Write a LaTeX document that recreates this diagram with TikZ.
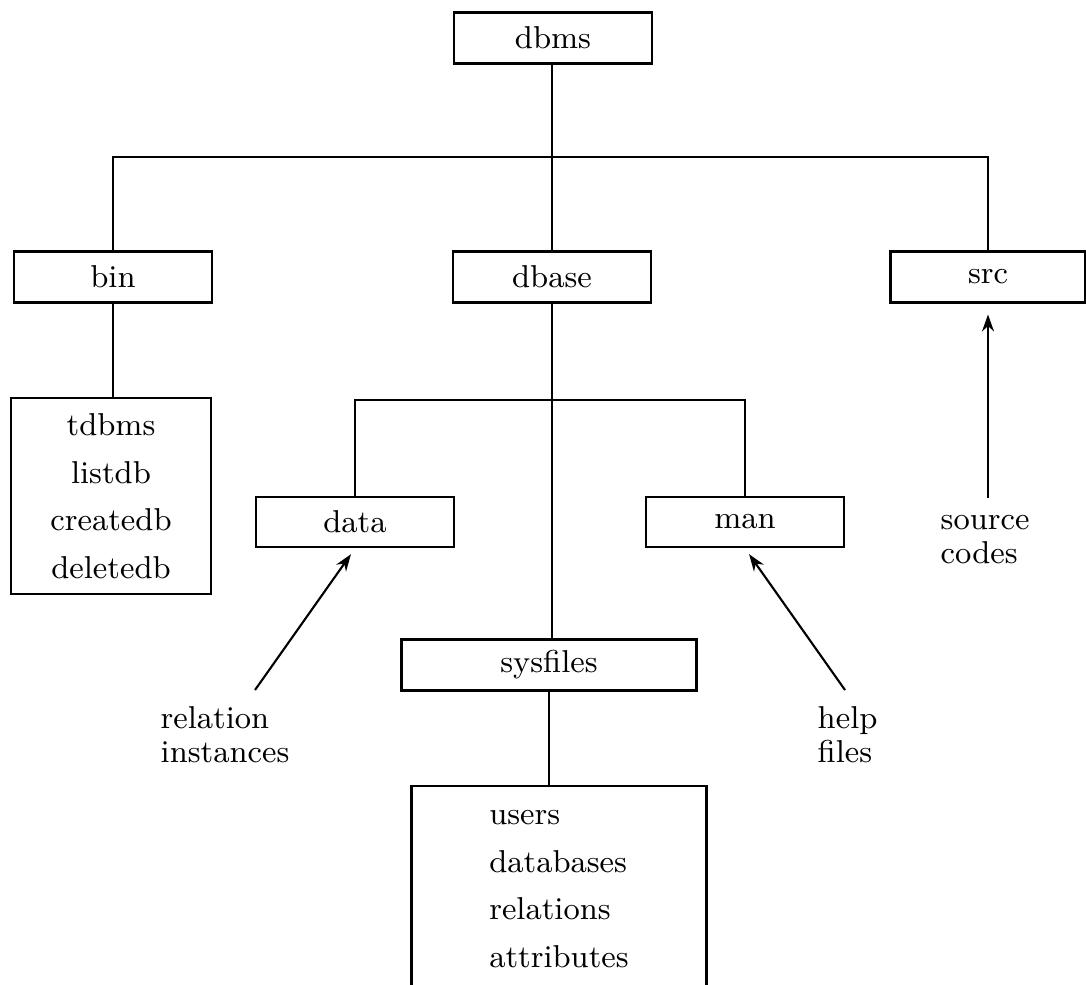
\documentclass[tikz,border=0pt]{standalone}
\usepackage{tikz}
\usetikzlibrary{arrows.meta}

\begin{document}
\begin{tikzpicture}[x=0.01cm,y=-0.01cm,
    every node/.style={inner sep=0pt,minimum size=0pt,font=\fontsize{9}{11}\selectfont},
    dirbox/.style={draw=black,line width=0.8pt,minimum width=1.98cm,minimum height=0.51cm},
    listbox/.style={draw=black,line width=0.8pt,align=center},
    note/.style={draw=none,align=left,font=\fontsize{9}{9.5}\selectfont},
    pointer/.style={draw=black,line width=0.6pt,-{Stealth[length=1.7mm,width=1.2mm]}}]
    \useasboundingbox (0,0) rectangle (1086,984);

    % directory boxes
    \node(dbms)[dirbox] at (553,38) {dbms};
    \node(bin)[dirbox] at (113,277) {bin};
    \node(dbase)[dirbox] at (552,277) {dbase};
    \node(src)[dirbox,minimum width=1.95cm] at (988,277) {src};
    \node(data)[dirbox,minimum height=0.5cm] at (355,522) {data};
    \node(man)[dirbox,minimum height=0.5cm] at (745,522) {man};
    \node(sysfiles)[dirbox,minimum width=2.95cm] at (549,665) {sysfiles};

    % file lists
    \node(progs)[listbox,minimum width=2cm,minimum height=1.96cm] at (111,496)
        {tdbms\\[2.5pt] listdb\\[2.5pt] createdb\\[2.5pt] deletedb};
    \node(tables)[listbox,align=left,minimum width=2.95cm,minimum height=2.06cm] at (559,889)
        {users\\[2.5pt] databases\\[2.5pt] relations\\[2.5pt] attributes};

    % notes
    \node(srcnote)[note,anchor=north west] at (940,515) {source\\codes};
    \node(datanote)[note,anchor=north west] at (160,706) {relation\\instances};
    \node(mannote)[note,anchor=north west] at (817,706) {help\\files};

    % branch points
    \coordinate(barl) at (113,157);
    \coordinate(barr) at (988,157);
    \coordinate(subl) at (355,400);
    \coordinate(subr) at (745,400);
    \coordinate(srcfoot) at (988,498);
    \coordinate(datafoot) at (255,690);
    \coordinate(manfoot) at (845,690);

    \path[draw=black,line width=0.6pt](dbms.south -| dbase) -- (dbase.north);
    \path[draw=black,line width=0.6pt](bin.north) -- (barl) -- (barr) -- (src.north);
    \path[draw=black,line width=0.6pt](bin.south) -- (bin.south |- progs.north);
    \path[draw=black,line width=0.6pt](dbase.south) -- (dbase.south |- sysfiles.north);
    \path[draw=black,line width=0.6pt](data.north) -- (subl) -- (subr) -- (man.north);
    \path[draw=black,line width=0.6pt](sysfiles.south) -- (sysfiles.south |- tables.north);

    \path[pointer,shorten >=3pt](srcfoot) -- (src.south);
    \path[pointer,shorten >=2pt](datafoot) -- (data.south);
    \path[pointer,shorten >=2pt](manfoot) -- (man.south);

  \end{tikzpicture}
\end{document}
